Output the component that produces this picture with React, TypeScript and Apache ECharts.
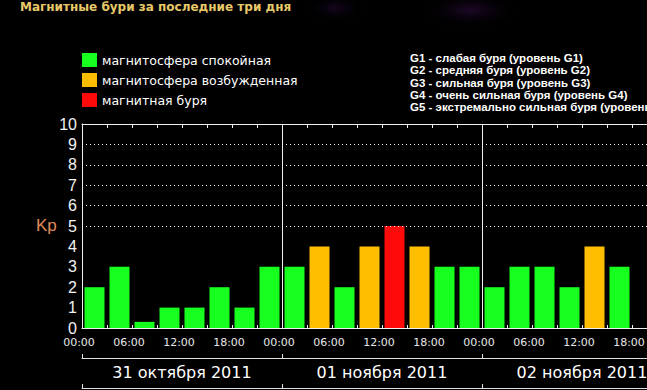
import React, { useEffect, useRef } from 'react';
import * as echarts from 'echarts';

const titleText = 'Магнитные бури за последние три дня';
const dayLabels = ['31 октября 2011', '01 ноября 2011', '02 ноября 2011'];
const slotLabels = ['00:00', '03:00', '06:00', '09:00', '12:00', '15:00', '18:00', '21:00'];
const kpDay1 = [2, 3, 0.3, 1, 1, 2, 1, 3];
const kpDay2 = [3, 4, 2, 4, 5, 4, 3, 3];
const kpDay3: (number | null)[] = [2, 3, 3, 2, 4, 3, null, null];
const timeTickLabels = ['00:00', '06:00', '12:00', '18:00'];
const stateNames = ['магнитосфера спокойная', 'магнитосфера возбужденная', 'магнитная буря'];
const stateColors = ['#17ff1f', '#ffbf00', '#ff0a0a'];
const gScaleLines = [
  'G1 - слабая буря (уровень G1)',
  'G2 - средняя буря (уровень G2)',
  'G3 - сильная буря (уровень G3)',
  'G4 - очень сильная буря (уровень G4)',
  'G5 - экстремально сильная буря (уровень G5)',
];
const kpMax = 10;
const dottedLevels = [5, 6, 7, 8, 9];
const hoursTotal = 72;

const categories = dayLabels.flatMap((d) => slotLabels.map((s) => `${d} ${s}`));
const kpValues: (number | null)[] = [...kpDay1, ...kpDay2, ...kpDay3];

function stateOf(v: number | null): number {
  if (v == null) return -1;
  if (v >= 5) return 2;
  if (v >= 4) return 1;
  return 0;
}

const LINE = '#f0f0f0';

function buildOption(): any {
  const series = stateNames.map((name, i) => ({
    type: 'bar',
    name,
    stack: 'kp',
    barWidth: 20,
    xAxisIndex: 0,
    yAxisIndex: 0,
    itemStyle: { color: stateColors[i] },
    data: kpValues.map((v) => (stateOf(v) === i ? v : '-')),
    markLine:
      i === 0
        ? {
            silent: true,
            symbol: ['none', 'none'],
            label: { show: false },
            lineStyle: { color: '#ffffff', width: 1, type: [1, 3] },
            data: dottedLevels.map((l) => ({ yAxis: l })),
          }
        : undefined,
  }));

  const hiddenLabel = { show: false };
  return {
    animation: false,
    backgroundColor: '#000000',
    legend: {
      data: stateNames,
      orient: 'vertical',
      left: 82,
      top: 53,
      padding: 0,
      itemWidth: 15,
      itemHeight: 14,
      itemGap: 6,
      icon: 'rect',
      selectedMode: false,
      textStyle: { color: '#ffffff', fontSize: 12.5, fontFamily: 'DejaVu Sans' },
    },
    grid: {
      left: 82,
      top: 124,
      width: 600,
      height: 204,
      containLabel: false,
      outerBoundsMode: 'none',
    },
    xAxis: [
      {
        type: 'category',
        data: categories,
        position: 'bottom',
        axisLine: { show: true, onZero: false, lineStyle: { color: LINE, width: 1 } },
        axisTick: { show: true, inside: true, length: 3, interval: 0, lineStyle: { color: LINE } },
        axisLabel: hiddenLabel,
        splitLine: { show: false },
      },
      {
        type: 'category',
        data: categories,
        position: 'top',
        axisLine: { show: true, onZero: false, lineStyle: { color: LINE, width: 1 } },
        axisTick: { show: true, inside: true, length: 4, interval: 0, lineStyle: { color: LINE } },
        axisLabel: hiddenLabel,
        splitLine: { show: false },
      },
      {
        type: 'value',
        position: 'bottom',
        min: 0,
        max: hoursTotal,
        interval: 6,
        axisLine: { show: false, onZero: false },
        axisTick: { show: false },
        splitLine: { show: false },
        axisLabel: {
          show: true,
          showMaxLabel: false,
          color: '#e8e8e8',
          fontSize: 11,
          fontFamily: 'DejaVu Sans',
          margin: 9,
          padding: [0, 6, 0, 0],
          formatter: (v: number) => timeTickLabels[Math.round(v / 6) % 4],
        },
      },
      {
        type: 'value',
        position: 'bottom',
        min: 0,
        max: hoursTotal,
        interval: 24,
        axisLine: { show: false, onZero: false },
        axisTick: { show: false },
        axisLabel: hiddenLabel,
        splitLine: { show: true, lineStyle: { color: LINE, width: 1, type: 'solid' } },
      },
      {
        type: 'category',
        data: dayLabels,
        position: 'bottom',
        offset: 30,
        axisLine: { show: true, onZero: false, lineStyle: { color: '#e0e0e0', width: 1 } },
        axisTick: { show: true, inside: true, length: 4, interval: 0, lineStyle: { color: '#e0e0e0' } },
        axisLabel: {
          show: true,
          interval: 0,
          color: '#ffffff',
          fontSize: 16,
          fontFamily: 'DejaVu Sans',
          margin: 6,
        },
        splitLine: { show: false },
      },
      {
        type: 'category',
        data: dayLabels,
        position: 'bottom',
        offset: 60,
        axisLine: { show: true, onZero: false, lineStyle: { color: '#e0e0e0', width: 1 } },
        axisTick: { show: true, inside: true, length: 4, interval: 0, lineStyle: { color: '#e0e0e0' } },
        axisLabel: hiddenLabel,
        splitLine: { show: false },
      },
    ],
    yAxis: {
      type: 'value',
      min: 0,
      max: kpMax,
      interval: 1,
      axisLine: { show: true, lineStyle: { color: LINE, width: 1 } },
      axisTick: { show: false },
      splitLine: { show: false },
      axisLabel: {
        color: '#f2f2f2',
        fontSize: 16,
        fontFamily: 'Liberation Sans',
        margin: 5,
      },
    },
    graphic: [
      {
        type: 'ellipse',
        z: -10,
        silent: true,
        shape: { cx: 470, cy: 10, rx: 50, ry: 18 },
        style: {
          fill: new echarts.graphic.RadialGradient(0.5, 0.5, 0.5, [
            { offset: 0, color: 'rgba(55,15,75,0.55)' },
            { offset: 1, color: 'rgba(0,0,0,0)' },
          ]),
        },
      },
      {
        type: 'ellipse',
        z: -10,
        silent: true,
        shape: { cx: 335, cy: 8, rx: 30, ry: 14 },
        style: {
          fill: new echarts.graphic.RadialGradient(0.5, 0.5, 0.5, [
            { offset: 0, color: 'rgba(45,10,65,0.5)' },
            { offset: 1, color: 'rgba(0,0,0,0)' },
          ]),
        },
      },
      {
        type: 'text',
        left: 20,
        top: 1,
        style: {
          text: titleText,
          fill: '#e8c96a',
          font: 'bold 12px "DejaVu Sans"',
        },
      },
      {
        type: 'text',
        x: 36,
        y: 225,
        style: {
          text: 'Kp',
          fill: '#e08a5a',
          font: '17px "Liberation Sans"',
          verticalAlign: 'middle',
        },
      },
      ...gScaleLines.map((t, i) => ({
        type: 'text',
        x: 410,
        y: 58 + i * 12.25,
        style: {
          text: t,
          fill: '#ffffff',
          font: 'bold 11.5px "Liberation Sans"',
          verticalAlign: 'middle',
        },
      })),
    ],
    series,
  };
}

export default function App() {
  const ref = useRef<HTMLDivElement>(null);
  useEffect(() => {
    if (!ref.current) return;
    const chart = echarts.init(ref.current, null, { renderer: 'svg' });
    chart.setOption(buildOption());
    return () => chart.dispose();
  }, []);
  return (
    <div
      ref={ref}
      style={{ position: 'fixed', left: 0, top: 0, width: 647, height: 390, background: '#000' }}
    />
  );
}
